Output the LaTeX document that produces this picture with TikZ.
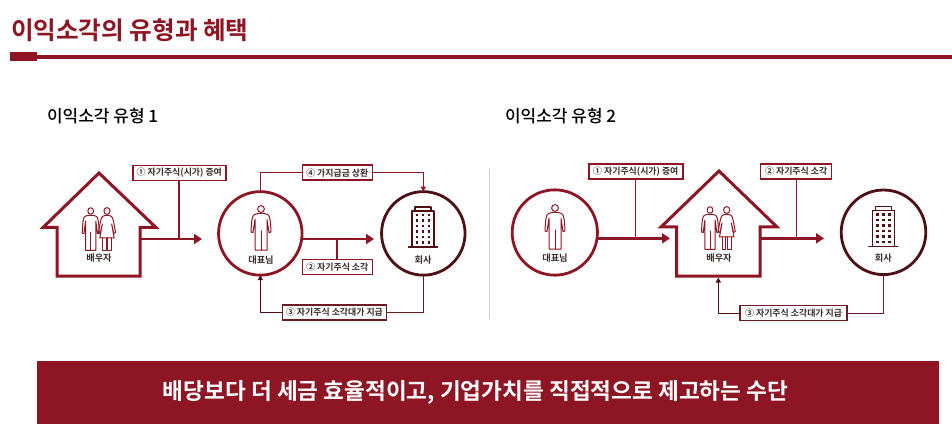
\documentclass[tikz,border=0pt]{standalone}
\usepackage{fontspec}
\setmainfont{Noto Sans CJK KR}
\newfontfamily\krbold{Noto Sans CJK KR Bold}
\newfontfamily\krmed{Noto Sans CJK KR Medium}
\usetikzlibrary{arrows.meta}
\definecolor{wine}{HTML}{8E1523}
\definecolor{darkwine}{HTML}{4E0F16}
\definecolor{midwine}{HTML}{6E1A24}
\definecolor{inktext}{HTML}{3A2A2A}
\tikzset{
  x=1pt,y=-1pt,
  every node/.style={inner sep=0pt,outer sep=0pt},
  heading/.style={font=\krmed\fontsize{17}{18}\selectfont,text=black,anchor=west},
  tag/.style={draw=#1,line width=1.4pt,fill=white,text=inktext,font=\krbold\fontsize{8.9}{10}\selectfont,minimum height=15pt},
  tag/.default=wine,
  ringnode/.style={circle,draw=#1,line width=2.8pt,minimum size=83.5pt,fill=white},
  housewall/.style={draw=wine,line width=3pt,line join=miter,miter limit=10,fill=white},
  thickarrow/.style={draw=wine,line width=2.8pt,-{Triangle[length=8pt,width=10pt]}},
  stem/.style={draw=wine,line width=1.4pt},
  thinline/.style={draw=#1,line width=1.3pt},
  thinarrow/.style={draw=#1,line width=1.3pt,-{Triangle[length=5pt,width=5pt]}},
  caption/.style={font=\krbold\fontsize{9.2}{10}\selectfont,text=inktext},
  figline/.style={draw=#1,line width=1pt,line join=round,line cap=round},
  man/.pic={
    \draw[figline=#1] (0,0) circle (3.4);
    \draw[figline=#1] (-3,4.5) -- (-6.5,5.5) .. controls (-9,6.5) and (-9.5,12) .. (-10,23)
      -- (-8,23.5) -- (-6,10.5) -- (-6,41) -- (6,41) -- (6,10.5) -- (8,23.5) -- (10,23)
      .. controls (9.5,12) and (9,6.5) .. (6.5,5.5) -- (3,4.5) -- cycle;
    \draw[figline=#1] (0,22) -- (0,41);
  },
  woman/.pic={
    \draw[figline=#1] (0,0) circle (3.4);
    \draw[figline=#1] (-2.5,4.5) -- (-5,5.5) .. controls (-7,7) and (-8,14) .. (-9.5,21.5)
      -- (-7.5,22.5) -- (-5.2,13) -- (-8,27) -- (8,27) -- (5.2,13) -- (7.5,22.5) -- (9.5,21.5)
      .. controls (8,14) and (7,7) .. (5,5.5) -- (2.5,4.5) -- cycle;
    \draw[figline=#1] (-5,27) -- (-5,39.5) -- (-1,39.5) -- (-1,27);
    \draw[figline=#1] (1,27) -- (1,39.5) -- (5,39.5) -- (5,27);
  },
  tower/.pic={
    \draw[figline=darkwine,line width=1.1pt] (-11,40) -- (-11,4) -- (11,4) -- (11,40);
    \draw[figline=darkwine,line width=1.1pt] (-8,4) -- (-8,0) -- (8,0) -- (8,4);
    \draw[figline=darkwine,line width=1.3pt] (-14.5,40) -- (14.5,40);
    \foreach \cx in {-6,0,6} \foreach \cy in {8,13.5,19,24.5,30,35.5}
      \fill[darkwine] (\cx-1.3,\cy-1.3) rectangle (\cx+1.3,\cy+1.3);
  }
}
\begin{document}
\begin{tikzpicture}
\useasboundingbox (0,0) rectangle (952,430);
\fill[white] (0,0) rectangle (952,430);

% header
\node[anchor=west,font=\krbold\fontsize{24.6}{28}\selectfont,text=wine] (title) at (11,30) {이익소각의 유형과 혜택};
\fill[wine] (37,55) rectangle (952,59);
\fill[wine] (10,52) rectangle (37,61);

\node[heading] (h1) at (47,116) {이익소각 유형 1};
\node[heading] (h2) at (505,116) {이익소각 유형 2};
\draw[draw=black!20,line width=0.8pt] (489.5,169) -- (489.5,319);

% ---------- type 1 ----------
\coordinate (t1a) at (202,239);
\coordinate (t1b) at (374,239);
\coordinate (s1a) at (179,239);
\coordinate (s1b) at (337,239);
\coordinate (h1door) at (140,239);
\path[housewall] (99,173) -- (156,227.5) -- (140,227.5) -- (140,276) -- (57,276) -- (57,227.5) -- (43,227.5) -- cycle;
\pic[xscale=.85,yscale=.96] at (90.7,211) {man=wine};
\pic[xscale=.9] at (107,211) {woman=wine};
\node[caption] (c1) at (99,258.5) {배우자};

\node[ringnode=wine] (ceo1) at (260.3,233.4) {};
\node[ringnode=darkwine] (co1) at (423.3,233.4) {};
\pic at (261,209) {man=wine};
\node[caption] (c2) at (261,260) {대표님};
\pic at (423,207) {tower};
\node[caption] (c3) at (423,260) {회사};

\node[tag,minimum width=93pt] (l11) at (179.3,173) {① 자기주식(시가) 증여};
\node[tag,minimum width=70pt] (l12) at (337.3,266.8) {② 자기주식 소각};
\node[tag=midwine,minimum width=104pt] (l13) at (334.5,312.6) {③ 자기주식 소각대가 지급};
\node[tag,minimum width=70pt] (l14) at (337.3,172.7) {④ 가지급금 상환};

\draw[thickarrow] (h1door) -- (t1a);
\draw[stem] (l11.south -| s1a) -- (s1a);
\draw[thickarrow] (ceo1.east |- t1b) -- (t1b);
\draw[stem] (s1b) -- (l12.north -| s1b);
\draw[thinline=wine] (l14.west) -| (ceo1.north);
\draw[thinarrow=wine] (l14.east) -| (co1.north);
\draw[thinline=midwine] (co1.south) |- (l13.east);
\draw[thinarrow=darkwine] (l13.west) -| (ceo1.south);

% ---------- type 2 ----------
\coordinate (t2a) at (670,238.3);
\coordinate (t2b) at (824,238.3);
\coordinate (s2a) at (635.7,238.3);
\coordinate (s2b) at (796.3,238.3);
\coordinate (h2door) at (760,238.3);
\path[housewall] (719,171) -- (777,227) -- (760,227) -- (760,276) -- (676.7,276) -- (676.7,227) -- (661,227) -- cycle;
\pic[xscale=.85,yscale=.96] at (710,210) {man=wine};
\pic[xscale=.9] at (726.7,210) {woman=wine};
\node[caption] (c4) at (719,258) {배우자};

\node[ringnode=wine,minimum size=85.3pt] (ceo2) at (554.8,232.5) {};
\node[ringnode=darkwine,minimum size=84.6pt] (co2) at (883.5,232.3) {};
\pic at (555,208) {man=wine};
\node[caption] (c5) at (555,258) {대표님};
\pic at (883.3,206.7) {tower};
\node[caption] (c6) at (883.3,258) {회사};

\node[tag,minimum width=94pt] (l21) at (635.8,171.5) {① 자기주식(시가) 증여};
\node[tag,minimum width=71pt] (l22) at (796.2,171.5) {② 자기주식 소각};
\node[tag=midwine,minimum width=107pt] (l23) at (793.6,313.2) {③ 자기주식 소각대가 지급};

\draw[thickarrow] (ceo2.east |- s2a) -- (t2a);
\draw[stem] (l21.south -| s2a) -- (s2a);
\draw[thickarrow] (h2door) -- (t2b);
\draw[stem] (l22.south -| s2b) -- (s2b);
\coordinate (h2bot) at (718.3,277.5);
\draw[thinline=midwine] (co2.south) |- (l23.east);
\draw[thinarrow=darkwine] (l23.west) -| (h2bot);

% banner
\fill[wine] (37,361) rectangle (939,424);
\node[font=\krbold\fontsize{22.6}{26}\selectfont,text=white] (banner) at (475.5,392) {배당보다 더 세금 효율적이고, 기업가치를 직접적으로 제고하는 수단};
\end{tikzpicture}
\end{document}
